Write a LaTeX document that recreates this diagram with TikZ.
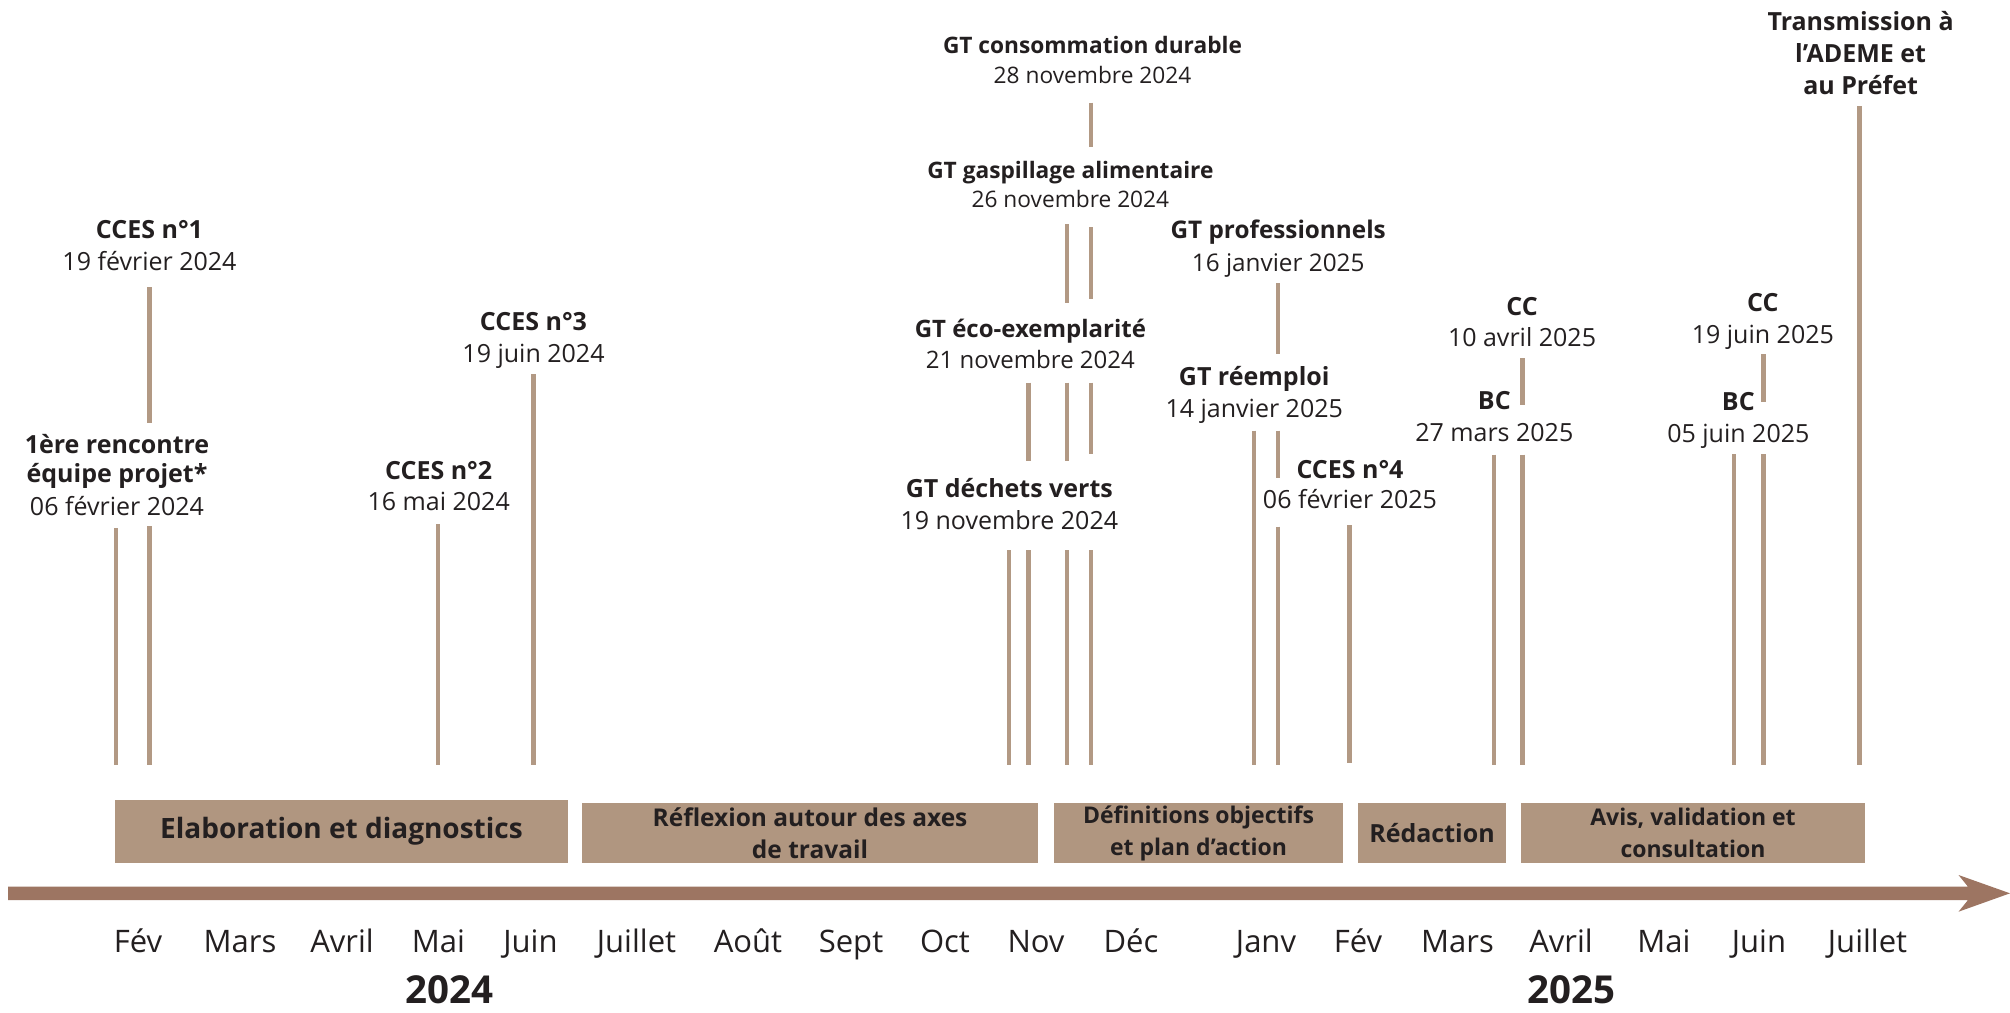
\documentclass[tikz,border=0pt]{standalone}
\usepackage{fontspec}
\setmainfont{Open Sans}
\definecolor{tickc}{RGB}{178,153,132}
\definecolor{boxc}{RGB}{176,150,128}
\definecolor{arrowc}{RGB}{157,117,98}
\definecolor{txt}{RGB}{35,31,32}
\tikzset{
  ttl/.style={anchor=base, inner sep=0pt, text=txt, font=\fontsize{#1}{32}\selectfont\bfseries},
  ttl/.default=25,
  dte/.style={anchor=base, inner sep=0pt, text=txt, font=\fontsize{#1}{32}\selectfont},
  dte/.default=25,
  tick/.style={draw=tickc, line width=4.5pt},
  phase/.style={fill=boxc, text=txt, align=center, inner sep=0pt, font=\fontsize{#1}{32}\selectfont\bfseries},
  month/.style={anchor=base, inner sep=0pt, text=txt, font=\fontsize{31}{36}\selectfont},
  year/.style={anchor=base, inner sep=0pt, text=txt, font=\fontsize{38.5}{44}\selectfont\bfseries},
}
\newcommand{\evt}[7]{%
  \node[ttl=#7] (#1-t) at (#2,#3) {#4};
  \node[dte=#7] (#1-d) at (#2,#5) {#6};}
\newcommand{\seg}[3]{\draw[tick] (#1,#2) -- (#1,#3);}
\begin{document}
\begin{tikzpicture}[x=1pt,y=-1pt]
\fill[white] (0,0) rectangle (2010,1012);
\path[use as bounding box] (0,0) rectangle (2010,1012);

% ---- event labels ----
\node[ttl] (r1-a) at (117,453) {1ère rencontre};
\node[ttl] (r1-t) at (117,482) {équipe projet*};
\node[dte] (r1-d) at (117,515) {06 février 2024};
\evt{c1}{149.5}{238}{CCES n°1}{270}{19 février 2024}{25}
\evt{c2}{438.7}{479}{CCES n°2}{510}{16 mai 2024}{25}
\evt{c3}{533.5}{330}{CCES n°3}{362}{19 juin 2024}{25}
\evt{gc}{1092.5}{53.6}{GT consommation durable}{83}{28 novembre 2024}{22.7}
\evt{gg}{1070.4}{178}{GT gaspillage alimentaire}{207}{26 novembre 2024}{22.7}
\evt{gp}{1278.2}{238.6}{GT professionnels}{271.4}{16 janvier 2025}{24.3}
\evt{ge}{1030.4}{337.5}{GT éco-exemplarité}{368}{21 novembre 2024}{24}
\evt{gr}{1254.2}{385.7}{GT réemploi}{417}{14 janvier 2025}{25}
\evt{gd}{1009.3}{497.5}{GT déchets verts}{529}{19 novembre 2024}{25}
\evt{c4}{1350}{478}{CCES n°4}{508}{06 février 2025}{25}
\evt{bc1}{1494.3}{409}{BC}{441.7}{27 mars 2025}{25}
\evt{cc1}{1522}{315}{CC}{346.7}{10 avril 2025}{25}
\evt{bc2}{1738.3}{410}{BC}{442.7}{05 juin 2025}{25}
\evt{cc2}{1762.8}{311.7}{CC}{343}{19 juin 2025}{25}
\node[ttl] (tr-a) at (1860.6,30.7) {Transmission à};
\node[ttl] (tr-b) at (1860.6,62) {l’ADEME et};
\node[ttl] (tr-t) at (1860.6,94) {au Préfet};

% ---- ticks ----
\seg{116}{528}{765}
\seg{149.5}{287}{423}  \seg{149.5}{526}{765}
\seg{437.8}{524}{765}
\seg{533.4}{374}{765}
\seg{1091}{102.5}{147} \seg{1091}{227}{298.6} \seg{1091}{382.5}{454} \seg{1091}{550}{765}
\seg{1067}{224}{303}   \seg{1067}{382.5}{461} \seg{1067}{550}{765}
\seg{1028.5}{382.5}{461.4} \seg{1028.5}{550}{765}
\seg{1009}{550}{765}
\seg{1278}{283}{354}   \seg{1278}{430.7}{478.3} \seg{1278}{526.7}{765}
\seg{1254}{430.7}{765}
\seg{1349.6}{525}{763}
\seg{1494}{454.7}{765}
\seg{1522.3}{358}{405} \seg{1522.3}{454.7}{765}
\seg{1734}{454}{765}
\seg{1763.4}{354}{401.7} \seg{1763.4}{454}{765}
\seg{1859.3}{106}{765}

% ---- phases ----
\node[phase=28, minimum width=453, minimum height=62.7] (p1) at (341.5,831.3) {Elaboration et diagnostics};
\node[phase=24.5, minimum width=456, minimum height=60] (p2) at (810,833) {Réflexion autour des axes\\de travail};
\node[phase=23, minimum width=289, minimum height=60] (p3) at (1198.5,833) {Définitions objectifs\\et plan d’action};
\node[phase=25, minimum width=148, minimum height=60] (p4) at (1432,833) {Rédaction};
\node[phase=23, minimum width=344, minimum height=60] (p5) at (1693,833) {Avis, validation et\\consultation};

% ---- axis arrow ----
\fill[arrowc] (8,886.7) -- (1968,886.7) .. controls (1964,881) .. (1958.5,875) -- (2010,893.3) -- (1958.5,911.7) .. controls (1964,905.5) .. (1968,900) -- (8,900) -- cycle;

% ---- months ----
\foreach \mx/\mn [count=\i] in {138/Fév,240/Mars,342/Avril,438.5/Mai,530.5/Juin,636.5/Juillet,748/Août,851/Sept,945/Oct,1036/Nov,1131/Déc,1266/Janv,1358/Fév,1457.5/Mars,1561/Avril,1664/Mai,1759/Juin,1867.5/Juillet}
  \node[month] (m\i) at (\mx,952) {\mn};
\node[year] (y24) at (449,1003) {2024};
\node[year] (y25) at (1571,1003) {2025};
\end{tikzpicture}
\end{document}
